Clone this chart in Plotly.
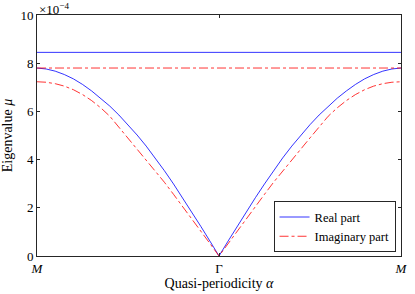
import plotly.graph_objects as go

# fraction of the path from Gamma (0) to M (1)
t_half = [0, 0.05, 0.1, 0.15, 0.2, 0.25, 0.3, 0.35, 0.4, 0.45, 0.5,
          0.55, 0.6, 0.65, 0.7, 0.75, 0.8, 0.85, 0.9, 0.95, 1.0]
# eigenvalues in units of 1e-4
real_curve = [0, 0.62, 1.23, 1.83, 2.42, 2.99, 3.54, 4.07, 4.56, 5.02, 5.45,
              5.85, 6.22, 6.55, 6.85, 7.12, 7.35, 7.53, 7.67, 7.76, 7.80]
imag_curve = [0, 0.52, 1.04, 1.55, 2.06, 2.56, 3.06, 3.53, 3.99, 4.44, 4.90,
              5.35, 5.80, 6.15, 6.45, 6.70, 6.90, 7.05, 7.15, 7.21, 7.23]
real_flat = 8.45
imag_flat = 7.80
tick_vals = [-1, 0, 1]
tick_text = ["<i>M</i>", "Γ", "<i>M</i>"]
y_ticks = [0, 2, 4, 6, 8, 10]

x_full = [-v for v in t_half[::-1]] + t_half[1:]
real_full = real_curve[::-1] + real_curve[1:]
imag_full = imag_curve[::-1] + imag_curve[1:]

BLUE = "rgb(0,0,255)"
RED = "rgb(255,0,0)"
FONT = "Liberation Serif"
AX = "#262626"

fig = go.Figure()
fig.add_trace(go.Scatter(x=[-1, 1], y=[real_flat, real_flat], mode="lines",
                         line=dict(color=BLUE, width=0.8), showlegend=False))
fig.add_trace(go.Scatter(x=x_full, y=real_full, mode="lines", name="Real part",
                         line=dict(color=BLUE, width=0.8)))
fig.add_trace(go.Scatter(x=[-1, 1], y=[imag_flat, imag_flat], mode="lines",
                         line=dict(color=RED, width=0.8, dash="dashdot"), showlegend=False))
fig.add_trace(go.Scatter(x=x_full, y=imag_full, mode="lines", name="Imaginary part",
                         line=dict(color=RED, width=0.8, dash="dashdot")))

fig.update_layout(
    width=415, height=294,
    margin=dict(l=34, r=7, t=15, b=36),
    paper_bgcolor="white", plot_bgcolor="white",
    font=dict(family=FONT, size=13, color="black"),
    xaxis=dict(range=[-1, 1], tickvals=tick_vals, ticktext=tick_text,
               showgrid=False, zeroline=False, showline=True, linecolor=AX,
               linewidth=1, mirror="ticks", ticks="inside", ticklen=3, tickcolor=AX,
               tickfont=dict(size=13),
               title=dict(text="Quasi-periodicity <i>α</i>", font=dict(size=14), standoff=2)),
    yaxis=dict(range=[0, 10], tickvals=y_ticks, showgrid=False, zeroline=False,
               showline=True, linecolor=AX, linewidth=1, mirror="ticks",
               ticks="inside", ticklen=3, tickcolor=AX, tickfont=dict(size=13),
               title=dict(text="Eigenvalue <i>μ</i>", font=dict(size=14), standoff=4)),
    legend=dict(x=0.985, y=0.015, xanchor="right", yanchor="bottom",
                bgcolor="white", bordercolor=AX, borderwidth=1,
                font=dict(size=12.5), tracegroupgap=0, itemwidth=30),
    showlegend=True,
)
fig.add_annotation(x=0, y=1, xref="paper", yref="paper", xanchor="left", yanchor="bottom",
                   text="×10<sup>−4</sup>", showarrow=False, font=dict(size=13), yshift=-4)

fig.write_html("out.html", config={"displayModeBar": False},
               post_script="document.body.style.margin='0';document.body.style.padding='0';")
